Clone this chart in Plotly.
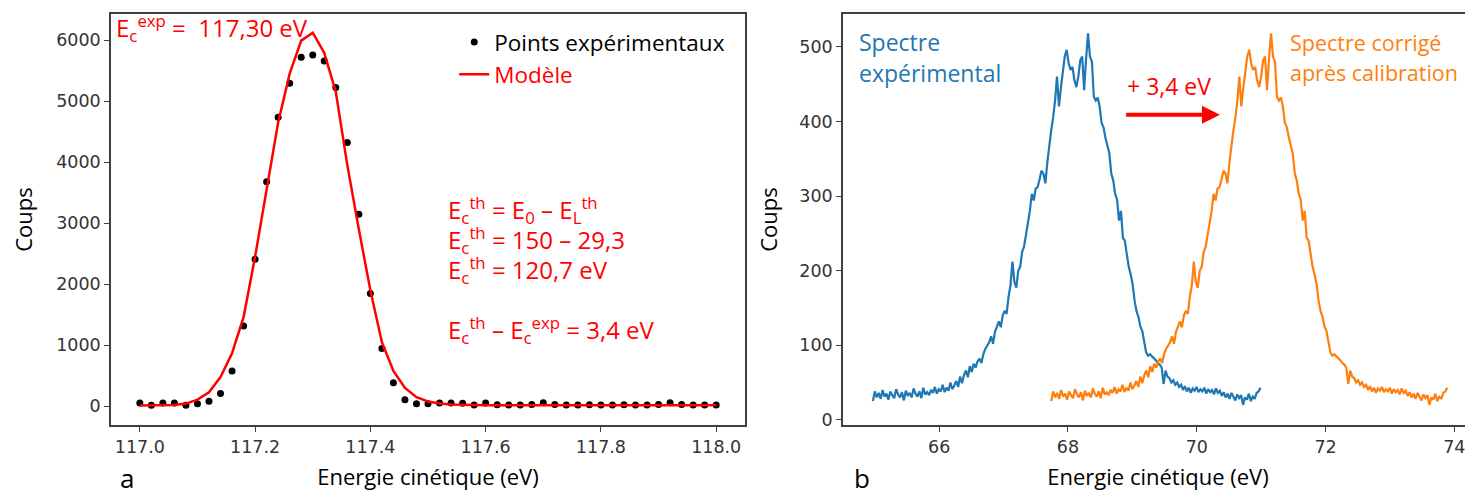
# -*- coding: utf-8 -*-

import numpy as np
import plotly.graph_objs as go
from plotly.subplots import make_subplots

# --- panel a : pic de photoélectrons ---
energie_a = [117.00, 117.02, 117.04, 117.06, 117.08, 117.10, 117.12, 117.14, 117.16, 117.18,
             117.20, 117.22, 117.24, 117.26, 117.28, 117.30, 117.32, 117.34, 117.36, 117.38,
             117.40, 117.42, 117.44, 117.46, 117.48, 117.50, 117.52, 117.54, 117.56, 117.58,
             117.60, 117.62, 117.64, 117.66, 117.68, 117.70, 117.72, 117.74, 117.76, 117.78,
             117.80, 117.82, 117.84, 117.86, 117.88, 117.90, 117.92, 117.94, 117.96, 117.98,
             118.00]
coups_exp = [55, 16, 53, 53, 16, 44, 82, 208, 579, 1317,
             2410, 3677, 4733, 5290, 5716, 5754, 5656, 5224, 4322, 3148,
             1847, 945, 388, 109, 44, 44, 55, 55, 50, 20,
             55, 25, 22, 22, 28, 60, 28, 22, 22, 25,
             22, 22, 25, 22, 22, 28, 60, 28, 22, 22,
             20]
coups_modele = [15, 15, 17, 22, 45, 110, 230, 480, 870, 1460,
                2450, 3550, 4650, 5450, 5990, 6120, 5790, 5150, 3950, 2900,
                1900, 1050, 580, 300, 150, 80, 45, 30, 22, 18,
                17, 16, 16, 16, 16, 16, 16, 16, 16, 16,
                16, 16, 16, 16, 16, 16, 16, 16, 16, 16,
                16]

# --- panel b : spectre expérimental et spectre corrigé ---
energie_exp = np.linspace(64.97, 70.99, 201)
energie_corr = np.linspace(67.74, 73.89, 201)
coups_spectre = [
    25, 38, 30, 36, 28, 40, 31, 35, 27, 38,
    33, 29, 41, 34, 30, 37, 26, 39, 32, 36,
    30, 42, 35, 31, 38, 29, 43, 34, 37, 33,
    40, 36, 44, 35, 41, 38, 47, 37, 43, 39,
    50, 41, 46, 52, 44, 58, 49, 60, 66, 57,
    72, 64, 75, 70, 78, 82, 76, 88, 95, 100,
    104, 112, 102, 118, 126, 132, 124, 140, 146, 142,
    165, 180, 212, 185, 177, 200, 205, 225, 232, 248,
    258, 280, 303, 294, 310, 312, 322, 334, 330, 317,
    345, 370, 388, 405, 428, 460, 420, 445, 465, 487,
    496, 478, 469, 473, 455, 446, 460, 482, 487, 442,
    484, 518, 487, 480, 433, 428, 432, 420, 398, 392,
    378, 365, 357, 330, 321, 303, 295, 267, 280, 244,
    240, 222, 205, 195, 182, 160, 146, 138, 125, 119,
    104, 90, 86, 88, 85, 83, 80, 76, 74, 70,
    48, 66, 58, 56, 50, 53, 47, 50, 44, 47,
    40, 45, 38, 43, 36, 42, 39, 44, 37, 41,
    38, 43, 35, 41, 37, 40, 34, 42, 36, 39,
    32, 37, 30, 35, 28, 36, 31, 26, 34, 29,
    33, 20, 30, 27, 35, 25, 31, 28, 36, 38, 43,
]

ROUGE = 'red'
BLEU = '#1f77b4'
ORANGE = '#ff7f0e'
TXT = 'Open Sans'

fig = make_subplots(rows=1, cols=2)

fig.add_trace(go.Scatter(x=energie_a, y=coups_exp, mode='markers', name='Points expérimentaux',
                         marker=dict(color='black', size=7)), row=1, col=1)
fig.add_trace(go.Scatter(x=energie_a, y=coups_modele, mode='lines',
                         name="<span style='color:red'>Modèle</span>",
                         line=dict(color=ROUGE, width=2.5)), row=1, col=1)
fig.add_trace(go.Scatter(x=energie_exp, y=coups_spectre, mode='lines', showlegend=False,
                         line=dict(color=BLEU, width=2.2)), row=1, col=2)
fig.add_trace(go.Scatter(x=energie_corr, y=coups_spectre, mode='lines', showlegend=False,
                         line=dict(color=ORANGE, width=2.2)), row=1, col=2)

axe = dict(showline=True, mirror=True, linecolor='#404040', linewidth=1.5, ticks='outside',
           ticklen=5, tickcolor='#404040', showgrid=False, zeroline=False, automargin=False,
           tickfont=dict(family='DejaVu Sans', size=17.5, color='#333'))
titre = dict(family=TXT, size=22, color='black')

fig.update_xaxes(axe)
fig.update_yaxes(axe)
fig.update_xaxes(domain=[0, 0.4655], range=[116.95, 118.05], tickvals=[117.0, 117.2, 117.4, 117.6, 117.8, 118.0],
                 tickformat='.1f', title=dict(text='Energie cinétique (eV)', font=titre, standoff=14), row=1, col=1)
fig.update_yaxes(range=[-306, 6426], tickvals=[0, 1000, 2000, 3000, 4000, 5000, 6000],
                 title=dict(text='Coups', font=titre, standoff=24), row=1, col=1)
fig.update_xaxes(domain=[0.5374, 1.0], range=[64.505, 74.29], tickvals=[66, 68, 70, 72, 74],
                 title=dict(text='Energie cinétique (eV)', font=titre, standoff=14), row=1, col=2)
fig.update_yaxes(range=[-7, 544], tickvals=[0, 100, 200, 300, 400, 500],
                 title=dict(text='Coups', font=titre, standoff=16), row=1, col=2)

def texte(x, y, t, couleur, ref='1', size=24):
    fig.add_annotation(x=x, y=y, xref='x' + ref if ref != '1' else 'x', yref='y' + ref if ref != '1' else 'y',
                       text=t, showarrow=False, xanchor='left', yanchor='middle',
                       font=dict(family=TXT, size=size, color=couleur))

texte(116.955, 6200, 'E<sub>c</sub><sup>exp</sup> =  117,30 eV', ROUGE)
texte(117.532, 3213, 'E<sub>c</sub><sup>th</sup> = E<sub>0</sub> – E<sub>L</sub><sup>th</sup>', ROUGE)
texte(117.532, 2721, 'E<sub>c</sub><sup>th</sup> = 150 – 29,3', ROUGE)
texte(117.532, 2230, 'E<sub>c</sub><sup>th</sup> = 120,7 eV', ROUGE)
texte(117.532, 1246, 'E<sub>c</sub><sup>th</sup> – E<sub>c</sub><sup>exp</sup> = 3,4 eV', ROUGE)

texte(64.72, 506, 'Spectre', BLEU, '2', 23)
texte(64.72, 465, 'expérimental', BLEU, '2', 23)
texte(71.42, 506, 'Spectre corrigé', ORANGE, '2', 21.5)
texte(71.42, 465, 'après calibration', ORANGE, '2', 21.5)
texte(68.88, 447, '+ 3,4 eV', ROUGE, '2', 23)

fig.add_annotation(x=70.36, y=409, ax=68.88, ay=409, xref='x2', yref='y2', axref='x2', ayref='y2',
                   text='', showarrow=True, arrowhead=2, arrowsize=0.9, arrowwidth=4, arrowcolor=ROUGE)

# lettres des panneaux
fig.add_annotation(x=(127 - 111) / 1362, y=-53 / 411, xref='paper', yref='paper', text='a', showarrow=False,
                   xanchor='center', yanchor='middle', font=dict(family=TXT, size=26, color='black'))
fig.add_annotation(x=(862 - 111) / 1362, y=-53 / 411, xref='paper', yref='paper', text='b', showarrow=False,
                   xanchor='center', yanchor='middle', font=dict(family=TXT, size=26, color='black'))

# la page ajoute 8 px de marge : figure réduite d'autant
fig.update_layout(
    width=1465, height=487, paper_bgcolor='white', plot_bgcolor='white',
    margin=dict(l=103, r=0, t=6, b=70),
    legend=dict(x=0.252, y=0.983, xanchor='left', yanchor='top', bgcolor='rgba(0,0,0,0)',
                font=dict(family=TXT, size=22.5, color='black'), tracegroupgap=0, itemwidth=30),
)

fig.write_html('out.html')
